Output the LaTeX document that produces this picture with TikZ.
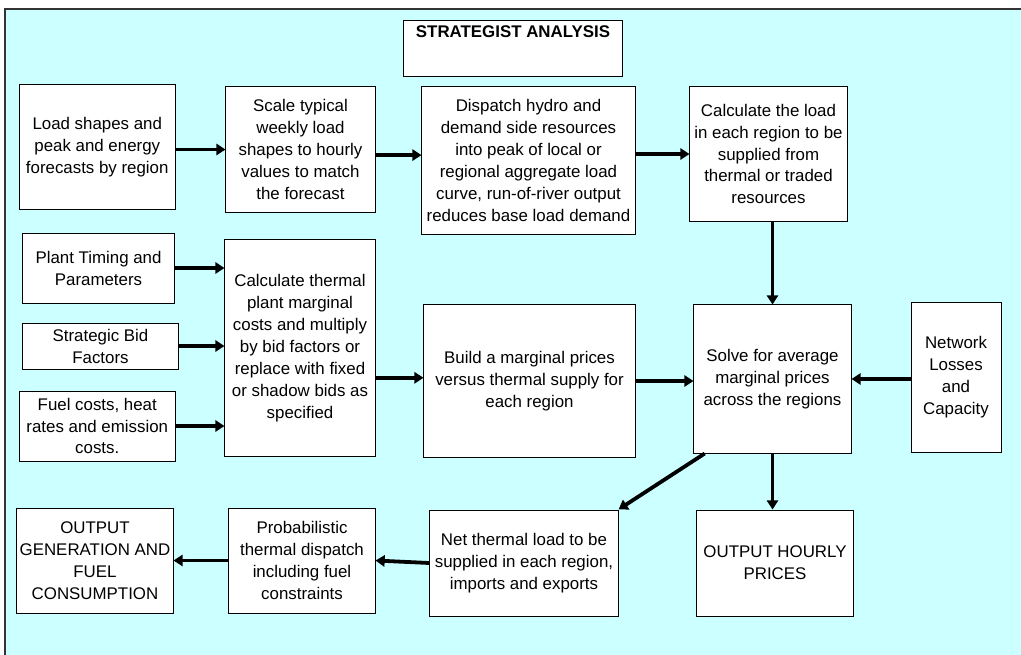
\documentclass[tikz,border=0pt]{standalone}
\usepackage{fontspec}
\setmainfont{Liberation Sans}
\usetikzlibrary{arrows.meta}
\definecolor{panel}{RGB}{204,255,255}
\begin{document}
\begin{tikzpicture}[x=0.025cm, y=-0.025cm,
  box/.style={draw, line width=0.7pt, fill=white, align=center, inner sep=1pt,
    font=\fontsize{12}{15.6}\selectfont},
  arr/.style={-{Triangle[length=6.5pt, width=8pt]}, line width=2.7pt}]
\useasboundingbox (0, 0) rectangle (1021, 654);
\clip (0, 0) rectangle (1021, 654);
\draw[fill=panel, draw=black!80, line width=0.8pt] (5, 9) rectangle (1030, 670);
\node[box, minimum width=5.45cm, minimum height=1.4cm,
  label={[anchor=north, inner sep=4.3pt, font=\fontsize{12}{15.6}\selectfont\bfseries]north:STRATEGIST ANALYSIS}] (title) at (513, 48) {};
\node[box, minimum width=3.89cm, minimum height=3.1cm] (load) at (97.25, 147) {Load shapes and\\peak and energy\\forecasts by region};
\node[box, minimum width=3.725cm, minimum height=3.125cm] (scale) at (300.5, 149.5) {Scale typical\\weekly load\\shapes to hourly\\values to match\\the forecast};
\node[box, minimum width=5.325cm, minimum height=3.675cm] (hydro) at (528.5, 160.5) {Dispatch hydro and\\demand side resources\\into peak of local or\\regional aggregate load\\curve, run-of-river output\\reduces base load demand};
\node[box, minimum width=3.925cm, minimum height=3.35cm] (thload) at (768.5, 154) {Calculate the load\\in each region to be\\supplied from\\thermal or traded\\resources};
\node[box, minimum width=3.775cm, minimum height=1.75cm] (timing) at (98.5, 268) {Plant Timing and\\Parameters};
\node[box, minimum width=3.75cm, minimum height=5.4cm] (mcost) at (300, 348) {Calculate thermal\\plant marginal\\costs and multiply\\by bid factors or\\replace with fixed\\or shadow bids as\\specified};
\node[box, minimum width=3.875cm, minimum height=1.15cm] (bid) at (100.5, 346) {Strategic Bid\\Factors};
\node[box, minimum width=3.89cm, minimum height=1.75cm] (fuel) at (97.25, 426) {Fuel costs, heat\\rates and emission\\costs.};
\node[box, minimum width=5.275cm, minimum height=3.8cm] (curve) at (529.5, 381) {Build a marginal prices\\versus thermal supply for\\each region};
\node[box, minimum width=3.925cm, minimum height=3.7cm] (solve) at (772.5, 379) {Solve for average\\marginal prices\\across the regions};
\node[box, minimum width=2.25cm, minimum height=3.725cm] (net) at (956, 377.5) {Network\\Losses\\and\\Capacity};
\node[box, minimum width=3.9cm, minimum height=2.625cm] (outgen) at (95, 560.5) {OUTPUT\\GENERATION AND\\FUEL\\CONSUMPTION};
\node[box, minimum width=3.65cm, minimum height=2.625cm] (prob) at (302, 560.5) {Probabilistic\\thermal dispatch\\including fuel\\constraints};
\node[box, minimum width=4.7cm, minimum height=2.65cm] (netload) at (524, 563) {Net thermal load to be\\supplied in each region,\\imports and exports};
\node[box, minimum width=3.9cm, minimum height=2.65cm] (outprice) at (775, 563) {OUTPUT HOURLY\\PRICES};
\draw[arr] (scale.west -| load.east) -- (scale.west);
\draw[arr] ([yshift=-0.14cm]scale.east) -- ([yshift=-0.14cm]scale.east -| hydro.west);
\draw[arr] (thload.west -| hydro.east) -- (thload.west);
\draw[arr] (thload.south -| solve.north) -- (solve.north);
\draw[arr] (timing.east) -- (timing.east -| mcost.west);
\draw[arr] (bid.east) -- (bid.east -| mcost.west);
\draw[arr] (fuel.east) -- (fuel.east -| mcost.west);
\draw[arr] ([yshift=0.08cm]curve.west -| mcost.east) -- ([yshift=0.08cm]curve.west);
\draw[arr] (curve.east) -- (curve.east -| solve.west);
\draw[arr] (solve.east -| net.west) -- (solve.east);
\draw[arr] (solve.south) -- (solve.south |- outprice.north);
\draw[arr] ([xshift=0.28cm]solve.south west) -- (netload.north east);
\draw[arr] (netload.west) -- (prob.east);
\draw[arr] (prob.west) -- (outgen.east);
\end{tikzpicture}
\end{document}
